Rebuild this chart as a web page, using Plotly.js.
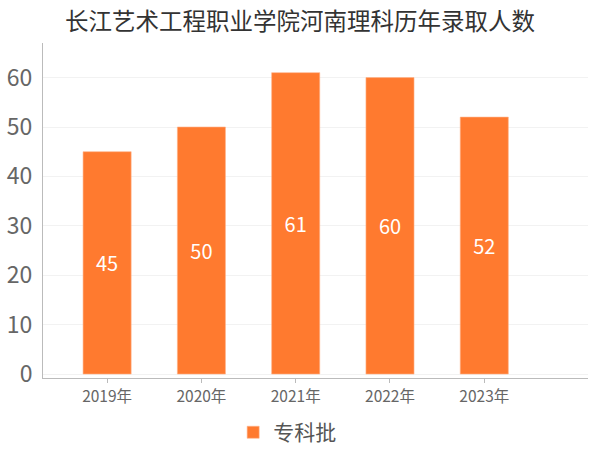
<!DOCTYPE html>
<html>
<head>
<meta charset="utf-8">
<script src="https://cdn.plot.ly/plotly-3.0.1.min.js"></script>
<style>body{margin:0;}#chart{width:600px;height:450px;}</style>
</head>
<body>
<div id="chart"></div>
<script>
const years = ['2019年', '2020年', '2021年', '2022年', '2023年'];
const counts = [45, 50, 61, 60, 52];
const seriesName = '专科批';

const font = '"Noto Sans CJK SC", "Noto Sans", sans-serif';

const trace = {
    x: years,
    y: counts,
    type: 'bar',
    name: seriesName,
    width: 0.51,
    marker: {
        color: '#FF7A2F',
        line: { color: '#FFB38A', width: 0.6 }
    },
    text: counts.map(String),
    textposition: 'inside',
    insidetextanchor: 'middle',
    textfont: { color: '#ffffff', size: 20, family: font },
    hoverinfo: 'x+y',
    showlegend: true
};

const layout = {
    width: 600,
    height: 450,
    margin: { l: 43, r: 12, t: 43, b: 72, autoexpand: false },
    paper_bgcolor: '#ffffff',
    plot_bgcolor: '#ffffff',
    font: { family: font, color: '#666666' },
    title: {
        text: '长江艺术工程职业学院河南理科历年录取人数',
        font: { size: 23.5, color: '#333333', family: font },
        x: 0.5,
        xanchor: 'center',
        y: 0.952,
        yanchor: 'middle'
    },
    xaxis: {
        type: 'category',
        range: [-0.68, 5.1],
        showgrid: false,
        showline: true,
        linecolor: '#bbbbbb',
        linewidth: 1,
        ticks: 'outside',
        ticklen: 4,
        tickcolor: '#bbbbbb',
        tickfont: { size: 15.5, color: '#666666', family: font }
    },
    yaxis: {
        range: [-0.8, 67],
        tickvals: [0, 10, 20, 30, 40, 50, 60],
        showgrid: true,
        gridcolor: '#f2f2f2',
        zeroline: false,
        showline: true,
        linecolor: '#bbbbbb',
        linewidth: 1,
        ticks: '',
        ticklabelstandoff: 5,
        tickfont: { size: 23, color: '#666666', family: font }
    },
    legend: {
        orientation: 'h',
        x: 0.448,
        xanchor: 'center',
        y: -0.163,
        yanchor: 'middle',
        font: { size: 21, color: '#555555', family: font },
        itemwidth: 30
    },
    bargap: 0.49
};

Plotly.newPlot('chart', [trace], layout, { displayModeBar: false });
</script>
</body>
</html>
